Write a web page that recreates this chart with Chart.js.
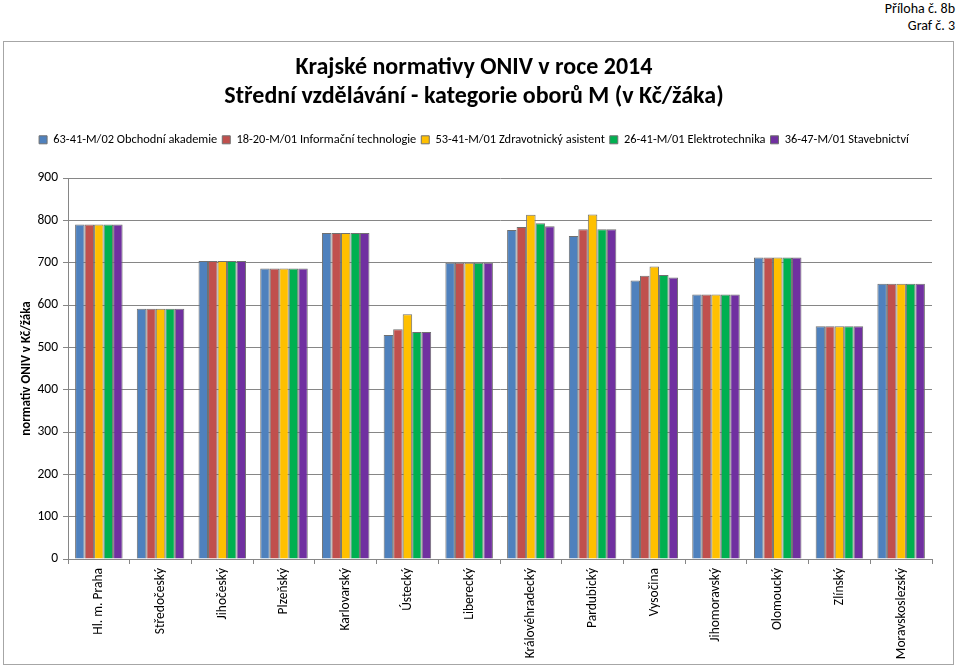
<!DOCTYPE html>
<html>
<head>
<meta charset="utf-8">
<script src="https://cdn.jsdelivr.net/npm/chart.js@4.4.1/dist/chart.umd.min.js"></script>
<style>
  html, body { margin: 0; padding: 0; background: #fff; }
  body { width: 959px; height: 668px; position: relative; overflow: hidden; font-family: Carlito, Lato, "Open Sans", sans-serif; }
  .note { position: absolute; right: 4px; font-size: 14px; color: #000; }
  #box { position: absolute; left: 3px; top: 41px; width: 951px; height: 624px; border: 1px solid #a6a6a6; box-sizing: border-box; }
  #wrap { position: absolute; left: 4px; top: 42px; width: 949px; height: 622px; }
</style>
</head>
<body>
<div class="note" style="top:0px;">Příloha č. 8b</div>
<div class="note" style="top:17px;">Graf č. 3</div>
<div id="box"></div>
<div id="wrap"><canvas id="c"></canvas></div>
<script>
const categories = ["Hl. m. Praha","Středočeský","Jihočeský","Plzeňský","Karlovarský","Ústecký","Liberecký","Královéhradecký","Pardubický","Vysočina","Jihomoravský","Olomoucký","Zlínský","Moravskoslezský"];
const seriesNames = ["63-41-M/02 Obchodní akademie","18-20-M/01 Informační technologie","53-41-M/01 Zdravotnický asistent","26-41-M/01 Elektrotechnika","36-47-M/01 Stavebnictví"];
const obchodniAkademie   = [790, 591, 704, 686, 770, 529, 700, 777, 763, 658, 625, 712, 550, 650];
const informacniTechnol  = [790, 591, 704, 686, 770, 543, 700, 784, 779, 669, 625, 712, 550, 650];
const zdravotnickyAsist  = [790, 591, 704, 686, 770, 578, 700, 813, 814, 691, 625, 712, 550, 650];
const elektrotechnika    = [790, 591, 704, 686, 770, 536, 700, 793, 779, 671, 625, 712, 550, 650];
const stavebnictvi       = [790, 591, 704, 686, 770, 536, 700, 786, 779, 665, 625, 712, 550, 650];
const yTicks = [0,100,200,300,400,500,600,700,800,900];

const colors = ["#4F81BD","#C0504D","#FFC000","#00B050","#7030A0"];
const seriesData = [obchodniAkademie, informacniTechnol, zdravotnickyAsist, elektrotechnika, stavebnictvi];
const FONT = "Carlito, Lato, 'Open Sans', sans-serif";

const legendGap = {
  id: 'legendGap',
  beforeInit(chart) {
    const orig = chart.legend.fit;
    chart.legend.fit = function () { orig.call(this); this.height += 22; };
  }
};

new Chart(document.getElementById('c'), {
  type: 'bar',
  plugins: [legendGap],
  data: {
    labels: categories,
    datasets: seriesNames.map((n, i) => ({
      label: n,
      data: seriesData[i],
      backgroundColor: colors[i],
      borderColor: '#707070',
      borderWidth: 1,
      categoryPercentage: 0.77,
      barPercentage: 1.0
    }))
  },
  options: {
    responsive: true,
    maintainAspectRatio: false,
    animation: false,
    devicePixelRatio: 1,
    layout: { padding: { left: 12, right: 21, top: 12, bottom: 0 } },
    plugins: {
      title: {
        display: true,
        text: ["Krajské normativy ONIV v roce 2014", "Střední vzdělávání - kategorie oborů M (v Kč/žáka)"],
        font: { family: FONT, size: 24, weight: 'bold', lineHeight: 1.2 },
        color: '#000',
        padding: { top: 0, bottom: 17 }
      },
      legend: {
        position: 'top',
        labels: {
          font: { family: FONT, size: 12.4 },
          color: '#000',
          boxWidth: 8, boxHeight: 8,
          padding: 5
        }
      },
      tooltip: { enabled: false }
    },
    scales: {
      x: {
        grid: { display: true, drawOnChartArea: false, drawTicks: true, tickLength: 5, color: '#868686', offset: true },
        border: { color: '#868686' },
        ticks: { font: { family: FONT, size: 13.5 }, color: '#000', minRotation: 90, maxRotation: 90, padding: 4, autoSkip: false },
        afterFit: s => { s.height = 105; }
      },
      y: {
        min: 0, max: 900,
        afterBuildTicks: s => { s.ticks = yTicks.map(v => ({ value: v })); },
        grid: { color: '#868686', tickLength: 5 },
        border: { color: '#868686' },
        ticks: { font: { family: FONT, size: 13.5 }, color: '#000', padding: 5 },
        title: { display: true, text: 'normativ ONIV v Kč/žáka', font: { family: FONT, size: 13, weight: 'bold' }, color: '#000', padding: 3 },
        afterFit: s => { s.width = 52; }
      }
    }
  }
});
</script>
</body>
</html>
